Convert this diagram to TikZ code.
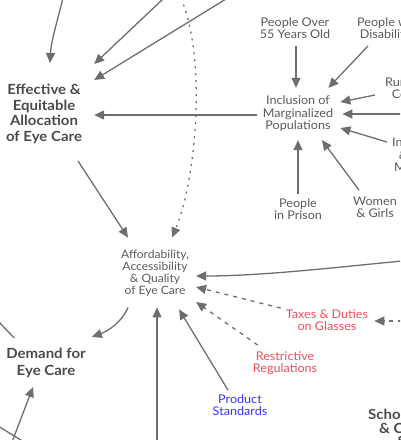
\documentclass[tikz,border=0pt]{standalone}
\usepackage{fontspec}
\setmainfont[UprightFeatures={FakeStretch=1.05}, BoldFeatures={FakeStretch=1.07}]{Lato}
\usetikzlibrary{arrows.meta,calc}
\definecolor{lc}{HTML}{6E6E6E}
\definecolor{tc}{HTML}{5A5A5A}
\definecolor{bc}{HTML}{4A4A4A}
\definecolor{rc}{HTML}{E8505B}
\definecolor{uc}{HTML}{3535F5}
\begin{document}
\begin{tikzpicture}[x=1pt,y=-1pt,
  arr/.style={draw=lc, line width=1.3pt, -{Triangle[length=10pt,width=9pt]}},
  plain/.style={draw=lc, line width=1.3pt},
  dotline/.style={dash pattern=on 2pt off 5pt},
  dashline/.style={dash pattern=on 4pt off 5pt},
  reg/.style={text=tc, align=center, inner sep=0pt, font=\fontsize{12}{12.5}\selectfont},
  small/.style={text=tc, align=center, inner sep=0pt, font=\fontsize{11.5}{12}\selectfont},
  big/.style={text=bc, align=center, inner sep=0pt, font=\fontsize{14}{15.6}\bfseries\selectfont},
]
\useasboundingbox (0,0) rectangle (400,440);
\clip (0,0) rectangle (400,440);

\node[big] (eff) at (44,114) {Effective \&\\Equitable\\Allocation\\of Eye Care};
\node[reg] (incl) at (298,114) {Inclusion of\\Marginalized\\Populations};
\node[reg] (p55) at (295,28) {People Over\\55 Years Old};
\node[reg, anchor=west] (disab) at (357,28) {People with\\Disabilities};
\node[reg, anchor=west] (rural) at (385,88) {Rural \& Remote\\Communities};
\node[reg, anchor=west] (indig) at (392,155) {Indigenous\\\& Ethnic\\Minorities};
\node[reg] (prison) at (298,209) {People\\in Prison};
\node[reg] (women) at (375,207) {Women\\\& Girls};
\node[small] (aff) at (155,273) {Affordability,\\Accessibility\\\& Quality\\of Eye Care};
\node[big, font=\fontsize{14}{17}\bfseries\selectfont] (demand) at (46,363) {Demand for\\Eye Care};
\node[reg, text=rc] (taxes) at (327,320) {Taxes \& Duties\\on Glasses};
\node[reg, text=rc] (restr) at (285,363) {Restrictive\\Regulations};
\node[reg, text=uc] (prod) at (240,405) {Product\\Standards};
\node[big, font=\fontsize{14}{13.5}\bfseries\selectfont, anchor=west] (school) at (368,428) {School Screening\\\& Community\\Services};

\coordinate (t1) at (63,-2);
\coordinate (t2) at (163,-1);
\coordinate (t3) at (226,-1);
\coordinate (t4) at (181,-2);
\coordinate (r1) at (402,261);
\coordinate (r2) at (402,321);
\coordinate (r3) at (402,114);
\coordinate (b1) at (157,442);
\coordinate (c1) at (-2,321);
\coordinate (c2) at (12,442);
\coordinate (c3) at (-2,426);
\coordinate (c4) at (24,442);

% into Effective
\draw[arr] (t1) .. controls (57,22) and (51,42) .. ($(eff.north)+(6,-21)$);
\draw[arr] (t2) -- ($(eff.north east)+(12,-20)$);
\draw[arr] (t3) -- ($(eff.east)+(12,-34)$);
\draw[arr] ($(incl.west)+(-6,1)$) -- ($(eff.east)+(12,1)$);
\draw[arr, dotline] (t4) .. controls (207,60) and (196,180) .. ($(aff.north)+(17,-12)$);
\draw[arr] ($(eff.south)+(34,17)$) -- ($(aff.north)+(-27,-12)$);

% into Affordability
\draw[arr] (r1) .. controls (330,268) and (260,276) .. ($(aff.east)+(7,3)$);
\draw[arr, dashline] ($(taxes.north west)+(-5,-1)$) -- ($(aff.east)+(7,14)$);
\draw[arr, dashline] ($(restr.north west)+(5,-6)$) -- ($(aff.east)+(7,29)$);
\draw[arr] ($(prod.north)+(-12,-4)$) -- ($(aff.south east)+(-10,13)$);
\draw[arr] (b1) -- ($(aff.south)+(2,11)$);

% Demand
\draw[arr] ($(aff.south)+(-27,11)$) .. controls (122,322) and (108,331) .. ($(demand.north east)+(6,-11)$);
\draw[plain] (c1) -- ($(demand.north west)+(8,-10)$);
\draw[arr] (c2) -- ($(demand.south)+(-13,9)$);
\draw[plain] (c3) -- (c4);

% Taxes
\draw[arr, dashline] (r2) -- ($(taxes.east)+(6,1)$);

% into Inclusion
\draw[arr] ($(p55.south)+(1,7)$) -- ($(p55.south |- incl.north)+(1,-8)$);
\draw[arr] ($(disab.south west)+(11,7)$) -- ($(incl.north east)+(-5,-8)$);
\draw[arr] ($(rural.west)+(-10,7)$) -- ($(incl.east)+(7,-12)$);
\draw[arr] (r3) -- ($(incl.east)+(9,0)$);
\draw[arr] ($(indig.west)+(-5,-13)$) -- ($(incl.east)+(7,14)$);
\draw[arr] ($(prison.north)+(0,-4)$) -- ($(prison.north |- incl.south)+(0,8)$);
\draw[arr] ($(women.north west)+(6,-6)$) -- ($(incl.south)+(24,8)$);
\end{tikzpicture}
\end{document}
